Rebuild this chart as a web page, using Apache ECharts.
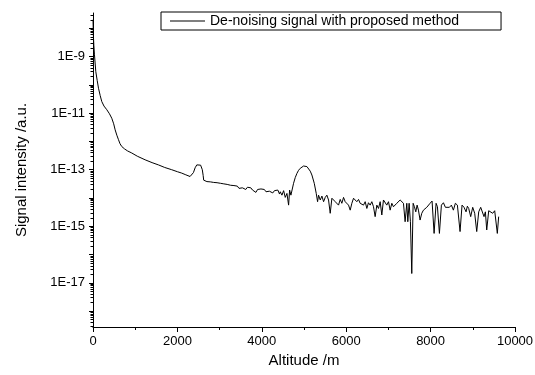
<!DOCTYPE html>
<html>
<head>
<meta charset="utf-8">
<script src="https://cdn.jsdelivr.net/npm/echarts@6/dist/echarts.min.js"></script>
<style>
  html, body { margin: 0; padding: 0; background: #fff; }
  #chart { width: 535px; height: 375px; }
</style>
</head>
<body>
<div id="chart"></div>
<script>
// Altitude (m) and de-noised signal intensity (a.u.)
const altitude = [
    0, 10, 20, 35, 66, 100, 130, 170, 208, 260, 327, 390, 445, 490, 525, 565, 604, 640, 682, 750,
    820, 918, 1050, 1235, 1400, 1550, 1700, 1865, 2000, 2101, 2200, 2300, 2347, 2380, 2420, 2460,
    2505, 2550, 2590, 2610, 2623, 2640, 2663,
    2700, 2740, 2780, 2820, 2860, 2900, 2940, 2980, 3020, 3060, 3100, 3140, 3180, 3220, 3260, 3300,
    3340, 3380, 3420, 3460, 3500, 3540, 3580, 3620, 3660, 3700, 3740, 3780, 3820, 3860, 3900, 3940,
    3980, 4020, 4060, 4100, 4140, 4180, 4220, 4260, 4300, 4340, 4380, 4420, 4438, 4477, 4517, 4556,
    4596, 4635, 4659, 4690, 4714, 4753, 4792, 4832, 4871, 4911, 4950, 4990, 5029, 5069, 5108, 5148,
    5187, 5243, 5290, 5322,
    5345, 5385, 5424, 5464, 5503, 5542, 5582, 5621, 5661, 5700, 5740, 5779, 5818, 5858, 5897, 5937,
    5976, 6016, 6055, 6095, 6134, 6174, 6213, 6252, 6292, 6331, 6371, 6410, 6450, 6489, 6528, 6568,
    6607, 6647, 6686, 6726, 6765, 6805, 6844, 6883, 6923, 6962, 7002, 7041, 7081, 7120, 7160, 7199,
    7238, 7278, 7317, 7357, 7396, 7436, 7460, 7491, 7522, 7554, 7586, 7617, 7649, 7680, 7712, 7751,
    7791, 7830, 7909, 7988, 8035, 8083, 8130, 8162, 8209, 8256, 8304, 8351, 8398, 8446, 8493, 8540,
    8587, 8635, 8698, 8745, 8792, 8840, 8871, 8903, 8950, 8998, 9045, 9093, 9140, 9187, 9219, 9266,
    9298, 9330, 9377, 9424, 9471, 9519, 9581, 9613
];
const signal = [
    2.0e-8, 5.0e-9, 2.5e-9, 1.15e-9, 2.95e-10, 1.41e-10, 7.6e-11, 4.2e-11, 2.57e-11, 1.78e-11,
    1.32e-11, 9.5e-12, 6.6e-12, 4.2e-12, 2.57e-12, 1.66e-12, 1.15e-12, 8.3e-13, 6.6e-13, 5.4e-13,
    4.6e-13, 3.9e-13, 3.0e-13, 2.24e-13, 1.78e-13, 1.48e-13, 1.2e-13, 1.0e-13, 8.5e-14, 7.6e-14,
    6.6e-14, 5.75e-14, 5.5e-14, 7.9e-14, 1.17e-13, 1.48e-13, 1.62e-13, 1.45e-13, 1.0e-13, 6.3e-14,
    4.27e-14, 4.8e-14, 3.8e-14,
    3.8e-14, 3.55e-14, 3.72e-14, 3.39e-14, 3.55e-14, 3.24e-14, 3.47e-14, 3.16e-14, 3.31e-14, 2.95e-14,
    3.16e-14, 2.82e-14, 3.02e-14, 2.69e-14, 2.82e-14, 2.51e-14, 2.75e-14, 2.34e-14, 2.63e-14, 2.19e-14,
    2.51e-14, 2.29e-14, 2.63e-14, 2.0e-14, 2.4e-14, 2.09e-14, 2.29e-14, 1.91e-14, 2.19e-14, 1.58e-14,
    2.0e-14, 1.74e-14, 2.09e-14, 1.82e-14, 2.0e-14, 1.66e-14, 1.91e-14, 1.74e-14, 2.0e-14, 1.51e-14,
    1.82e-14, 1.58e-14, 1.91e-14, 1.38e-14, 1.66e-14, 1.26e-14, 1.82e-14, 1.05e-14, 1.45e-14, 5.6e-15,
    1.91e-14, 1.26e-14, 1.48e-14, 3.31e-14, 5.25e-14, 7.4e-14, 9.5e-14, 1.12e-13, 1.29e-13, 1.35e-13,
    1.35e-13, 1.29e-13, 1.12e-13, 8.9e-14, 6.5e-14, 3.31e-14, 1.45e-14, 7.4e-15,
    1.26e-14, 8.5e-15, 1.17e-14, 7.4e-15, 1.05e-14, 1.26e-14, 8.5e-15, 2.88e-15, 9.8e-15, 1.1e-14,
    7.4e-15, 8.5e-15, 5.6e-15, 8.9e-15, 6.5e-15, 1.05e-14, 7.4e-15, 8.5e-15, 5.6e-15, 3.72e-15,
    6.5e-15, 9.8e-15, 8.5e-15, 7.4e-15, 8.9e-15, 6.5e-15, 6.8e-15, 5.6e-15, 7.4e-15, 4.27e-15,
    6.8e-15, 5.6e-15, 7.4e-15, 4.9e-15, 2.19e-15, 5.6e-15, 4.27e-15, 7.4e-15, 2.51e-15, 8.5e-15,
    8.9e-15, 5.6e-15, 7.4e-15, 3.72e-15, 6.5e-15, 4.9e-15, 5.6e-15, 6.5e-15, 7.4e-15, 8.5e-15,
    7.4e-15, 6.5e-15, 1.45e-15, 6.5e-15, 1.45e-15, 6.5e-15, 1.45e-15, 2.14e-17, 6.5e-15, 4.9e-15,
    3.24e-15, 5.6e-15, 3.72e-15, 1.66e-15, 2.88e-15, 3.72e-15, 4.68e-15, 6.5e-15, 7.8e-15, 5.6e-16,
    6.5e-15, 4.9e-15, 5.6e-16, 5.6e-15, 6.8e-15, 4.68e-15, 5.13e-15, 4.68e-15, 5.6e-15, 3.72e-15,
    6.5e-15, 5.6e-15, 6.5e-16, 5.6e-15, 4.68e-15, 3.24e-15, 5.13e-15, 4.27e-15, 2.19e-15, 4.68e-15,
    2.88e-15, 6.5e-16, 3.24e-15, 4.68e-15, 3.98e-15, 2.19e-15, 3.24e-15, 7.4e-16, 3.55e-15, 3.72e-15,
    2.88e-15, 3.55e-15, 5.6e-16, 2.19e-15
];

// Axis ticks
const yLabelValues = [1e-17, 1e-15, 1e-13, 1e-11, 1e-9];
const yMajorTicks = [1e-18, 1e-17, 1e-16, 1e-15, 1e-14, 1e-13, 1e-12, 1e-11, 1e-10, 1e-9, 1e-8];
const yMinorTicks = [];
[1e-19, 1e-18, 1e-17, 1e-16, 1e-15, 1e-14, 1e-13, 1e-12, 1e-11, 1e-10, 1e-9, 1e-8].forEach(d => {
    for (let k = 2; k <= 9; k++) yMinorTicks.push(k * d);
});
const Y_MIN = 2.75e-19;
const Y_MAX = 3.47e-8;

const FONT = "'Liberation Sans', Arial, sans-serif";
const data = altitude.map((a, i) => [a, signal[i]]);

const chart = echarts.init(document.getElementById('chart'), null, { renderer: 'canvas' });

chart.setOption({
    animation: false,
    backgroundColor: '#fff',
    textStyle: { fontFamily: FONT, color: '#000' },
    grid: { left: 93, right: 20, top: 13, bottom: 48, outerBoundsMode: 'none' },
    legend: {
        left: 161,
        top: 12,
        padding: [2, 42, 2, 9],
        borderColor: '#000',
        borderWidth: 1,
        icon: 'rect',
        itemWidth: 35,
        itemHeight: 1,
        itemGap: 5,
        itemStyle: { color: '#000' },
        textStyle: { fontFamily: FONT, fontSize: 14, color: '#000', padding: [1, 0, 0, 0] },
        data: ['De-noising signal with proposed method'],
    },
    xAxis: {
        type: 'value',
        min: 0,
        max: 10000,
        interval: 2000,
        name: 'Altitude /m',
        nameLocation: 'middle',
        nameGap: 24,
        nameTextStyle: { fontFamily: FONT, fontSize: 15, color: '#000' },
        axisLine: { lineStyle: { color: '#000', width: 1 } },
        axisTick: { inside: false, length: 5, lineStyle: { color: '#000' } },
        minorTick: { show: true, splitNumber: 2, length: 3, lineStyle: { color: '#000' } },
        splitLine: { show: false },
        axisLabel: {
            fontFamily: FONT, fontSize: 13, color: '#000', margin: 8,
            formatter: v => String(v),
        },
    },
    yAxis: [
        {
            type: 'log',
            min: Y_MIN,
            max: Y_MAX,
            name: 'Signal intensity /a.u.',
            nameLocation: 'middle',
            nameGap: 64,
            nameTextStyle: { fontFamily: FONT, fontSize: 15, color: '#000' },
            axisLine: { show: true, lineStyle: { color: '#000', width: 1 } },
            axisTick: { show: true, length: 4, customValues: yMajorTicks, lineStyle: { color: '#000' } },
            splitLine: { show: false },
            axisLabel: {
                fontFamily: FONT, fontSize: 13, color: '#000', margin: 8,
                customValues: yLabelValues,
                formatter: v => '1E' + Math.round(Math.log10(v)),
            },
        },
        {
            type: 'log',
            min: Y_MIN,
            max: Y_MAX,
            position: 'left',
            axisLine: { show: false },
            axisTick: { show: true, length: 2.5, customValues: yMinorTicks, lineStyle: { color: '#000' } },
            axisLabel: { show: false, customValues: [] },
            splitLine: { show: false },
        },
    ],
    series: [
        {
            name: 'De-noising signal with proposed method',
            type: 'line',
            yAxisIndex: 0,
            data: data,
            symbol: 'none',
            showSymbol: false,
            lineStyle: { color: '#000', width: 1 },
            itemStyle: { color: '#000' },
        },
    ],
});
</script>
</body>
</html>
